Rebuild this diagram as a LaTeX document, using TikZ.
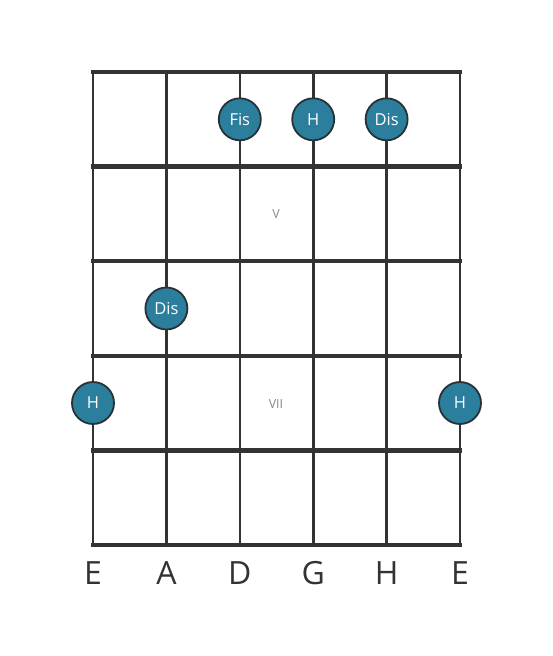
\documentclass[tikz,border=0pt]{standalone}
\usepackage{fontspec}
\setmainfont{Open Sans}
\definecolor{gridc}{HTML}{333333}
\definecolor{dotc}{HTML}{2B7E9C}
\definecolor{dotb}{HTML}{263238}
\definecolor{romc}{HTML}{888888}
\begin{document}
\begin{tikzpicture}[x=1pt,y=-1pt,
  fret/.style={draw=gridc,line width=4.5pt},
  strg/.style={draw=gridc,line width=2.6pt},
  note/.style={circle,fill=dotc,draw=dotb,line width=1.8pt,minimum size=42pt,inner sep=0pt,text=white,font=\fontsize{16.5}{16.5}\selectfont},
  roman/.style={text=romc,font=\fontsize{12.5}{12.5}\selectfont},
  sname/.style={text=gridc,font=\fontsize{32}{32}\selectfont}]
\useasboundingbox (0,0) rectangle (553,656);
\foreach \x/\n in {93/1,166.4/2,239.8/3,313.2/4,386.6/5,460/6}
  \draw[strg] (\x,72) -- (\x,545);
\foreach \y in {72,166.6,261.2,355.8,450.4,545}
  \draw[fret] (91,\y) -- (462,\y);
\node[roman] (r5) at (276,214) {V};
\node[roman] (r7) at (276,404) {VII};
\node[note] (n1) at (239.8,119.3) {Fis};
\node[note] (n2) at (313.2,119.3) {H};
\node[note] (n3) at (386.6,119.3) {Dis};
\node[note] (n4) at (166.4,308.5) {Dis};
\node[note] (n5) at (93,403) {H};
\node[note] (n6) at (460,403) {H};
\foreach \x/\s/\k in {93/E/a,166.4/A/b,239.8/D/c,313.2/G/d,386.6/H/e,460/E/f}
  \node[sname,anchor=base] (s\k) at (\x,584) {\s};
\end{tikzpicture}
\end{document}
